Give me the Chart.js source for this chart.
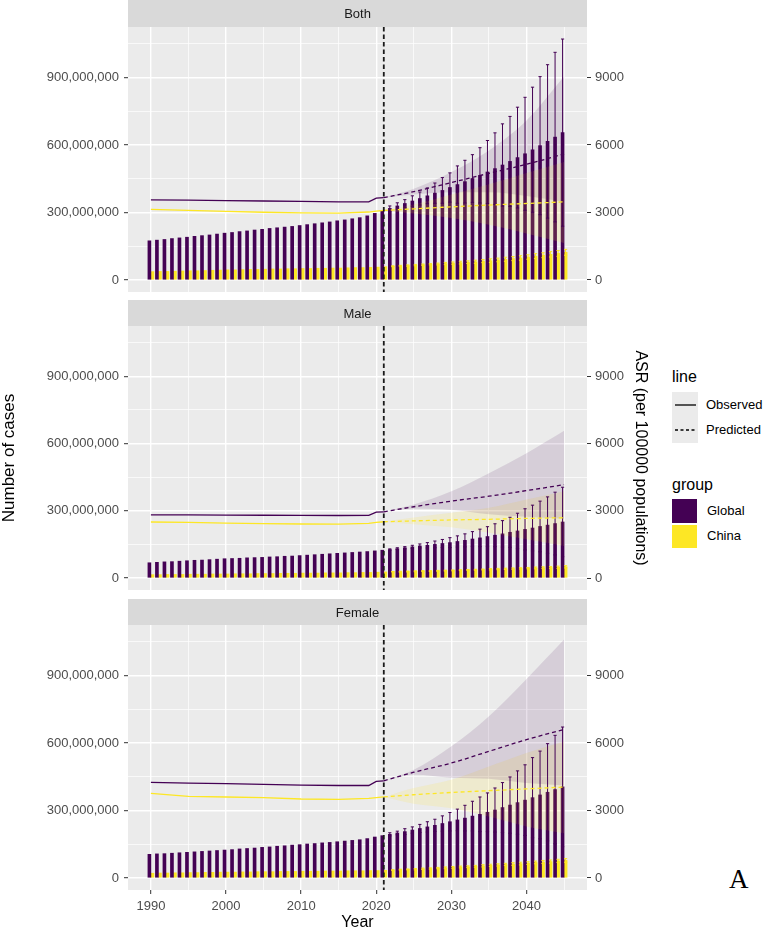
<!DOCTYPE html>
<html>
<head>
<meta charset="utf-8">
<script src="https://cdn.jsdelivr.net/npm/chart.js@4.4.1/dist/chart.umd.min.js"></script>
<style>
  body { margin: 0; background: #fff; width: 778px; height: 927px; position: relative; overflow: hidden;
         font-family: "Liberation Sans", Arial, sans-serif; }
  canvas { position: absolute; left: 0; }
  #c1 { top: 0; } #c2 { top: 300px; } #c3 { top: 599px; }
  .lg { position: absolute; color: #000; line-height: 1; white-space: nowrap; }
  .lgt { font-size: 16px; }
  .lgl { font-size: 13px; }
  #tagA { position: absolute; left: 729px; top: 866px; font-family: "Liberation Serif", serif; font-size: 27px; line-height: 1; color: #000; }
</style>
</head>
<body>
<canvas id="c1" width="648" height="305"></canvas>
<canvas id="c2" width="648" height="303"></canvas>
<canvas id="c3" width="648" height="332"></canvas>

<div class="lg lgt" style="left:672px; top:369px;">line</div>
<div class="lg" style="left:672px; top:392px; width:26px; height:51px; background:#EBEBEB;">
  <svg width="26" height="51">
    <line x1="3" y1="13" x2="24" y2="13" stroke="#000" stroke-width="1.3"/>
    <line x1="3" y1="38" x2="24" y2="38" stroke="#000" stroke-width="1.3" stroke-dasharray="3,2.5"/>
  </svg>
</div>
<div class="lg lgl" style="left:706px; top:398px;">Observed</div>
<div class="lg lgl" style="left:706px; top:423px;">Predicted</div>
<div class="lg lgt" style="left:672px; top:477px;">group</div>
<div class="lg" style="left:672px; top:499px; width:25px; height:24px; background:#440154;"></div>
<div class="lg" style="left:672px; top:525px; width:25px; height:23px; background:#FDE725;"></div>
<div class="lg lgl" style="left:707px; top:504px;">Global</div>
<div class="lg lgl" style="left:707px; top:529px;">China</div>
<div id="tagA">A</div>

<script>
// years
var barYears = [1990,1991,1992,1993,1994,1995,1996,1997,1998,1999,2000,2001,2002,2003,2004,2005,2006,2007,
  2008,2009,2010,2011,2012,2013,2014,2015,2016,2017,2018,2019,2020,2021,2022,2023,2024,2025,2026,2027,2028,
  2029,2030,2031,2032,2033,2034,2035,2036,2037,2038,2039,2040,2041,2042,2043,2044,2045];
var errYears = [2022,2023,2024,2025,2026,2027,2028,2029,2030,2031,2032,2033,2034,2035,2036,2037,2038,2039,
  2040,2041,2042,2043,2044,2045];
var asrObsYears = [1990,1995,2000,2005,2010,2015,2019,2020,2021];
var asrPredYears = [2021,2025,2030,2035,2040,2045];
var cutYear = 2021;

// tick labels
var yearTicks = [1990,2000,2010,2020,2030,2040];
var caseTicks = [0,300000000,600000000,900000000];
var asrTicks = [0,3000,6000,9000];

// number of cases (millions)
var bothGlobal = [174,177,180,184,187,190,194,197,200,204,208,211,215,218,222,225,229,232,235,238,242,246,250,254,
  258,263,267,272,277,285,296,307,318,329,340,351,362,374,386,398,411,424,437,451,465,480,495,511,527,544,561,579,
  597,616,635,655];
var bothChina = [37,38,38,39,40,41,41,42,43,44,45,45,46,47,47,48,49,49,50,50,51,51,52,52,53,53,54,55,55,56,57,59,
  61,63,64,66,68,70,71,73,75,77,79,81,84,86,89,92,95,98,102,106,110,114,118,123];
var bothGlobalUp = [329,343,357,374,391,409,431,455,476,507,532,557,588,620,654,694,727,768,812,857,904,957,1012,1071];
var bothGlobalLo = [307,315,323,328,333,339,341,341,346,341,342,345,342,340,336,328,327,320,310,301,290,275,258,239];
var bothChinaUp = [63,65,67,69,71,73,75,78,80,83,85,88,91,94,97,101,104,108,112,117,121,126,131,136];
var bothChinaLo = [59,61,61,63,65,67,67,68,70,71,73,74,77,78,81,83,86,88,92,95,99,102,105,110];

var maleGlobal = [68,70,72,73,75,77,79,80,82,84,86,87,88,90,91,92,94,95,97,98,100,102,104,106,108,110,112,114,116,
  118,121,124,127,131,135,139,143,146,150,154,158,163,168,174,179,185,191,197,204,210,217,223,230,236,243,250];
var maleChina = [15,15,16,16,16,17,17,17,18,18,18,19,19,19,20,20,20,21,21,21,22,22,22,23,23,23,24,24,25,25,26,27,
  28,28,29,30,31,31,32,33,34,35,36,37,38,39,40,41,42,43,44,45,46,47,48,50];
var maleGlobalUp = [130,135,140,146,152,158,165,172,180,188,197,207,218,229,242,256,271,289,309,325,343,362,383,405];
var maleGlobalLo = [124,127,130,132,134,134,135,136,136,138,139,141,140,141,140,138,137,131,125,121,117,110,103,95];
var maleChinaUp = [29,30,31,32,33,33,34,35,36,37,38,39,40,42,43,44,45,46,47,49,50,51,53,55];
var maleChinaLo = [27,26,27,28,29,29,30,31,32,33,34,35,36,36,37,38,39,40,41,41,42,43,43,45];

var femaleGlobal = [105,107,108,110,112,114,116,118,120,122,124,126,129,131,133,136,138,141,143,146,148,151,153,156,
  158,161,164,167,170,175,182,188,194,200,206,213,220,227,234,242,250,258,266,275,283,292,302,313,324,335,346,357,
  369,381,393,405];
var femaleChina = [21,22,22,23,23,24,24,25,25,26,26,26,27,27,28,28,28,29,29,29,30,30,30,31,31,31,32,32,32,33,33,34,
  35,37,38,39,41,42,44,45,47,49,50,52,54,56,58,60,62,64,66,69,71,73,76,78];
var femaleGlobalUp = [201,208,219,227,238,250,261,276,291,306,323,341,360,378,400,424,449,476,503,535,564,597,634,671];
var femaleGlobalLo = [187,192,193,199,202,204,207,208,209,210,209,209,206,206,204,202,199,194,189,179,174,165,152,139];
var femaleChinaUp = [37,39,40,42,44,45,47,49,51,53,54,56,59,61,63,65,68,70,72,75,78,80,83,86];
var femaleChinaLo = [33,35,36,36,38,39,41,41,43,45,46,48,49,51,53,55,56,58,60,63,64,66,69,70];

// ASR (per 100000)
var bothGlobalObs = [3560,3545,3530,3510,3490,3475,3470,3640,3660];
var bothChinaObs = [3135,3090,3045,3010,2985,2975,3020,3060,3090];
var bothGlobalPred = [3660,3925,4330,4740,5140,5600];
var bothGlobalHi = [3660,4060,4800,5760,7090,9040];
var bothGlobalLow = [3660,3800,3900,3900,3730,3470];
var bothChinaPred = [3090,3160,3250,3330,3400,3470];
var bothChinaHi = [3090,3350,3800,4250,4750,5240];
var bothChinaLow = [3090,2950,2750,2450,2070,1640];

var maleGlobalObs = [2820,2815,2810,2800,2795,2790,2795,2940,2955];
var maleChinaObs = [2500,2480,2450,2430,2410,2400,2440,2480,2510];
var maleGlobalPred = [2955,3180,3430,3650,3900,4165];
var maleGlobalHi = [2955,3280,3870,4680,5570,6570];
var maleGlobalLow = [2955,3085,3040,2850,2730,2640];
var maleChinaPred = [2510,2550,2590,2620,2660,2690];
var maleChinaHi = [2510,2700,2910,3130,3500,3870];
var maleChinaLow = [2510,2400,2260,2020,1730,1430];

var femaleGlobalObs = [4250,4220,4190,4160,4130,4110,4110,4290,4320];
var femaleChinaObs = [3760,3630,3600,3570,3510,3490,3540,3570,3600];
var femaleGlobalPred = [4320,4700,5110,5630,6150,6600];
var femaleGlobalHi = [4320,4810,5850,7190,8850,10600];
var femaleGlobalLow = [4320,4590,4460,4410,4220,4110];
var femaleChinaPred = [3600,3700,3800,3880,3960,4040];
var femaleChinaHi = [3600,4000,4370,4960,5560,6070];
var femaleChinaLow = [3600,3300,3100,2730,2290,1990];

var GLOBAL = '#440154', CHINA = '#FDE725';

Chart.defaults.font.family = '"Liberation Sans", Arial, sans-serif';
Chart.defaults.animation = false;

// grey panel + strip
var panelPlugin = {
  id: 'panel',
  beforeDraw: function (chart, args, opts) {
    var a = chart.chartArea, ctx = chart.ctx;
    ctx.save();
    ctx.fillStyle = '#EBEBEB';
    ctx.fillRect(a.left, a.top, a.right - a.left, a.bottom - a.top);
    ctx.fillStyle = '#D9D9D9';
    ctx.fillRect(a.left, 0, a.right - a.left, a.top);
    ctx.fillStyle = '#1A1A1A';
    ctx.font = '13px "Liberation Sans", Arial, sans-serif';
    ctx.textAlign = 'center';
    ctx.textBaseline = 'middle';
    ctx.fillText(opts.label, (a.left + a.right) / 2, a.top / 2 + 1);
    ctx.restore();
  },
  afterDatasetsDraw: function (chart) {
    var a = chart.chartArea, ctx = chart.ctx;
    var x = chart.scales.x.getPixelForValue(cutYear);
    ctx.save();
    ctx.strokeStyle = '#1A1A1A';
    ctx.lineWidth = 1.8;
    ctx.setLineDash([4.5, 3]);
    ctx.beginPath();
    ctx.moveTo(x, a.top);
    ctx.lineTo(x, a.bottom);
    ctx.stroke();
    ctx.restore();
  }
};

// error bars on the predicted bars, drawn over the ribbons and under the lines
function drawErrorBars(chart) {
  var ctx = chart.ctx, y = chart.scales.y;
  chart.data.datasets.forEach(function (ds, i) {
    if (!ds.errUp) return;
    var meta = chart.getDatasetMeta(i);
    ctx.save();
    ctx.strokeStyle = ds.errColor;
    ctx.lineWidth = 1;
    errYears.forEach(function (yr, k) {
      var bar = meta.data[barYears.indexOf(yr)];
      var top = y.getPixelForValue(ds.errUp[k] * 1e6);
      var bot = y.getPixelForValue(ds.errLo[k] * 1e6);
      ctx.beginPath();
      ctx.moveTo(bar.x, top); ctx.lineTo(bar.x, bot);
      ctx.moveTo(bar.x - 1.6, top); ctx.lineTo(bar.x + 1.6, top);
      ctx.moveTo(bar.x - 1.6, bot); ctx.lineTo(bar.x + 1.6, bot);
      ctx.stroke();
    });
    ctx.restore();
  });
}

var errorPlugin = {
  id: 'errorBars',
  beforeDatasetsDraw: function (chart) { chart.$errDone = false; },
  beforeDatasetDraw: function (chart, args) {
    var ds = chart.data.datasets[args.index];
    if (chart.$errDone || !ds.isLine) return;
    chart.$errDone = true;
    drawErrorBars(chart);
  }
};

function pts(xs, ys, k) {
  return xs.map(function (x, i) { return { x: x, y: ys[i] * (k || 1) }; });
}

function lineSet(xs, ys, color, dashed) {
  return { type: 'line', data: pts(xs, ys), yAxisID: 'y2', borderColor: color, borderWidth: 1.3,
           borderDash: dashed ? [4, 3] : [], pointRadius: 0, fill: false, order: 1, isLine: true,
           cubicInterpolationMode: dashed ? 'monotone' : 'default', tension: 0 };
}

function ribbon(ys, color, top) {
  return { type: 'line', data: pts(asrPredYears, ys), yAxisID: 'y2', borderWidth: 0, borderColor: 'rgba(0,0,0,0)',
           pointRadius: 0, backgroundColor: color, fill: top ? '+1' : false, order: 2,
           cubicInterpolationMode: 'monotone' };
}

function isMajor(list, v) { return list.indexOf(v) >= 0; }

function buildPanel(id, d) {
  var major = function (list) { return function (c) { return isMajor(list, c.tick.value) ? 1.4 : 0.7; }; };
  var tickCol = function (list) { return function (c) { return isMajor(list, c.tick.value) ? '#333333' : 'rgba(0,0,0,0)'; }; };
  var caseGrid = caseTicks.concat(caseTicks.map(function (v) { return v + 150000000; }));
  var yearGrid = yearTicks.concat(yearTicks.map(function (v) { return v + 5; }));

  return new Chart(document.getElementById(id), {
    type: 'line',
    data: {
      datasets: [
        lineSet(asrObsYears, d.gObs, GLOBAL, false),
        lineSet(asrPredYears, d.gPred, GLOBAL, true),
        lineSet(asrObsYears, d.cObs, CHINA, false),
        lineSet(asrPredYears, d.cPred, CHINA, true),
        ribbon(d.gHi, 'rgba(68,1,84,0.12)', true),
        ribbon(d.gLow, 'rgba(0,0,0,0)', false),
        ribbon(d.cHi, 'rgba(253,231,37,0.15)', true),
        ribbon(d.cLow, 'rgba(0,0,0,0)', false),
        { type: 'bar', data: pts(barYears, d.gCases, 1e6), yAxisID: 'y', backgroundColor: GLOBAL,
          barThickness: 3, order: 3, errUp: d.gUp, errLo: d.gLo, errColor: GLOBAL },
        { type: 'bar', data: pts(barYears, d.cCases, 1e6), yAxisID: 'y', backgroundColor: CHINA,
          barThickness: 3, order: 3, errUp: d.cUp, errLo: d.cLo, errColor: CHINA }
      ]
    },
    options: {
      responsive: false,
      animation: false,
      layout: { padding: { top: d.strip, left: 0, right: 0, bottom: 0 } },
      plugins: { legend: { display: false }, tooltip: { enabled: false }, panel: { label: d.label } },
      scales: {
        x: {
          type: 'linear', min: 1986.95, max: 2048.05, offset: false,
          afterBuildTicks: function (s) { s.ticks = yearGrid.map(function (v) { return { value: v }; }); },
          afterFit: function (s) { s.height = d.bottom ? 41 : 13; },
          ticks: { display: !!d.bottom, autoSkip: false, maxRotation: 0, color: '#4D4D4D', font: { size: 13 }, padding: 5,
                   callback: function (v) { return isMajor(yearTicks, v) ? String(v) : ''; } },
          grid: { color: '#FFFFFF', lineWidth: major(yearTicks), offset: false, drawTicks: !!d.bottom,
                  tickLength: 4, tickWidth: 1, tickColor: tickCol(yearTicks) },
          border: { display: false },
          title: { display: !!d.bottom, text: 'Year', color: '#000', font: { size: 16, lineHeight: 1 }, padding: 0 }
        },
        y: {
          type: 'linear', position: 'left', min: -53550000, max: 1124550000,
          afterBuildTicks: function (s) { s.ticks = caseGrid.map(function (v) { return { value: v }; }); },
          afterFit: function (s) { s.width = 128; },
          ticks: { autoSkip: false, color: '#4D4D4D', font: { size: 13 }, padding: 5,
                   callback: function (v) { return isMajor(caseTicks, v) ? v.toLocaleString('en-US') : ''; } },
          grid: { color: '#FFFFFF', lineWidth: major(caseTicks), tickLength: 4, tickWidth: 1, tickColor: tickCol(caseTicks) },
          border: { display: false },
          title: { display: !!d.titles, text: 'Number of cases', color: '#000', font: { size: 17, lineHeight: 1 },
                   padding: { top: 1, bottom: 0 } }
        },
        y2: {
          type: 'linear', position: 'right', min: -535.5, max: 11245.5,
          afterBuildTicks: function (s) { s.ticks = asrTicks.map(function (v) { return { value: v }; }); },
          afterFit: function (s) { s.width = 61; },
          ticks: { autoSkip: false, color: '#4D4D4D', font: { size: 13 }, padding: 4,
                   callback: function (v) { return String(v); } },
          grid: { drawOnChartArea: false, tickLength: 4, tickWidth: 1, tickColor: '#333333' },
          border: { display: false },
          title: { display: !!d.titles, text: 'ASR (per 100000 populations)', color: '#000',
                   font: { size: 16, lineHeight: 1 }, padding: { top: 0, bottom: 0 } }
        }
      }
    },
    plugins: [panelPlugin, errorPlugin]
  });
}

buildPanel('c1', { label: 'Both', strip: 27,
  gCases: bothGlobal, cCases: bothChina, gUp: bothGlobalUp, gLo: bothGlobalLo, cUp: bothChinaUp, cLo: bothChinaLo,
  gObs: bothGlobalObs, cObs: bothChinaObs, gPred: bothGlobalPred, cPred: bothChinaPred,
  gHi: bothGlobalHi, gLow: bothGlobalLow, cHi: bothChinaHi, cLow: bothChinaLow });

buildPanel('c2', { label: 'Male', strip: 26, titles: true,
  gCases: maleGlobal, cCases: maleChina, gUp: maleGlobalUp, gLo: maleGlobalLo, cUp: maleChinaUp, cLo: maleChinaLo,
  gObs: maleGlobalObs, cObs: maleChinaObs, gPred: maleGlobalPred, cPred: maleChinaPred,
  gHi: maleGlobalHi, gLow: maleGlobalLow, cHi: maleChinaHi, cLow: maleChinaLow });

buildPanel('c3', { label: 'Female', strip: 26, bottom: true,
  gCases: femaleGlobal, cCases: femaleChina, gUp: femaleGlobalUp, gLo: femaleGlobalLo, cUp: femaleChinaUp, cLo: femaleChinaLo,
  gObs: femaleGlobalObs, cObs: femaleChinaObs, gPred: femaleGlobalPred, cPred: femaleChinaPred,
  gHi: femaleGlobalHi, gLow: femaleGlobalLow, cHi: femaleChinaHi, cLow: femaleChinaLow });
</script>
</body>
</html>
